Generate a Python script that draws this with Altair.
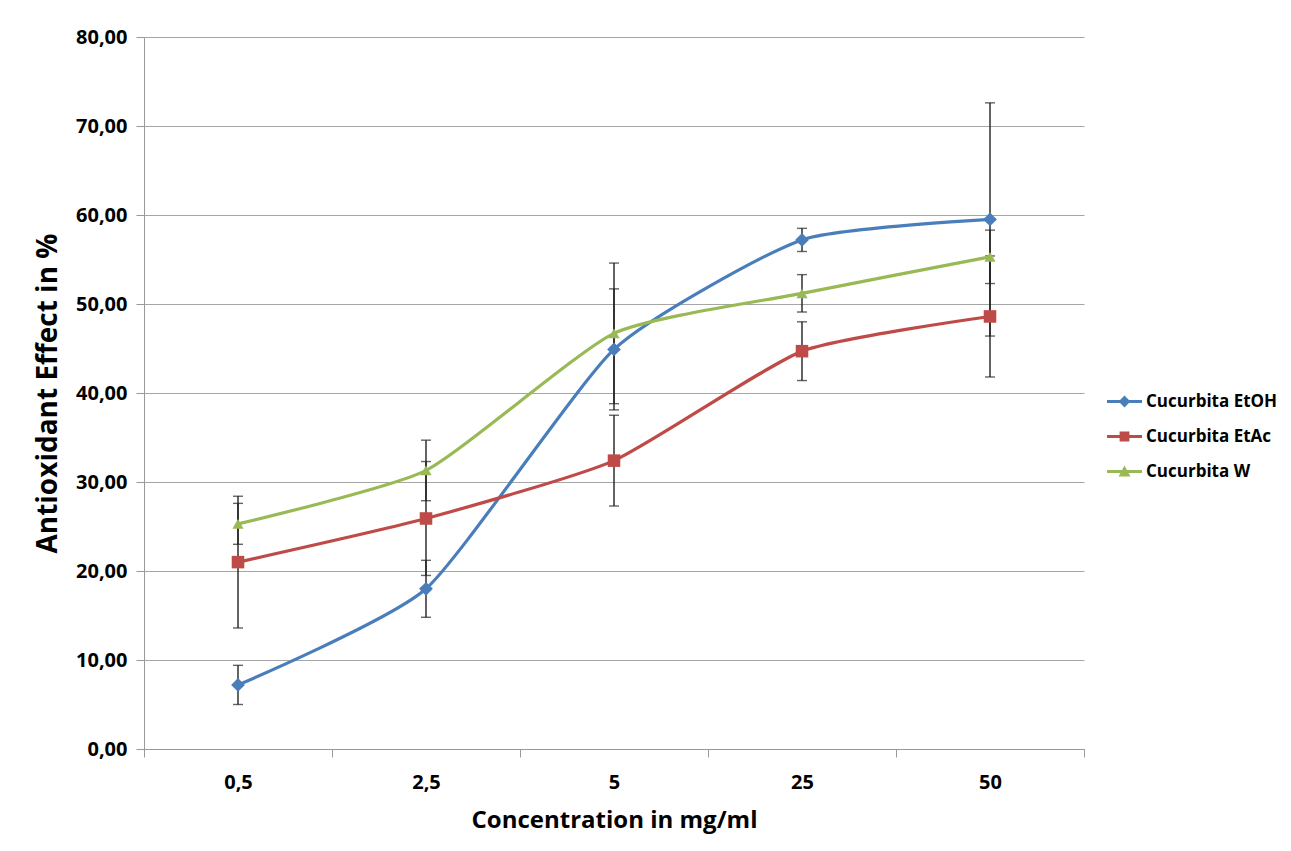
import altair as alt
import pandas as pd

concentrations = ["0,5", "2,5", "5", "25", "50"]
series_names = ["Cucurbita EtOH", "Cucurbita EtAc", "Cucurbita W"]

etoh_values = [7.2, 18.0, 44.9, 57.2, 59.5]
etoh_errors = [2.2, 3.2, 6.8, 1.3, 13.1]
etac_values = [21.0, 25.9, 32.4, 44.7, 48.6]
etac_errors = [7.4, 6.4, 5.1, 3.3, 6.8]
w_values = [25.3, 31.3, 46.7, 51.2, 55.3]
w_errors = [2.3, 3.4, 7.9, 2.1, 3.0]

colors = ["#4A7EBB", "#BE4B48", "#98B954"]
shapes = ["diamond", "square", "triangle-up"]
marker_sizes = [190, 125, 150]
legend_paths = [
    "M-1,-0.08H1V0.08H-1Z M0,-0.34L0.34,0L0,0.34L-0.34,0Z",
    "M-1,-0.08H1V0.08H-1Z M-0.28,-0.28H0.28V0.28H-0.28Z",
    "M-1,-0.08H1V0.08H-1Z M0,-0.34L0.34,0.28H-0.34Z",
]

rows = []
for name, vals, errs in zip(series_names,
                            [etoh_values, etac_values, w_values],
                            [etoh_errors, etac_errors, w_errors]):
    for c, v, e in zip(concentrations, vals, errs):
        rows.append({"conc": c, "series": name, "value": v,
                     "lo": v - e, "hi": v + e})
df = pd.DataFrame(rows)

FONT = "Open Sans"
YTITLE = "Antioxidant Effect in %"

x_enc = alt.X(
    "conc:N", sort=concentrations, bandPosition=0.5,
    scale=alt.Scale(type="band", paddingInner=0, paddingOuter=0),
    axis=alt.Axis(title="Concentration in mg/ml", tickBand="extent", labelAngle=0,
                  grid=False, domainColor="#999999", tickColor="#999999",
                  tickSize=8, labelFont=FONT, labelFontSize=20, labelFontWeight="bold",
                  labelColor="black", labelPadding=15, titleFont=FONT,
                  titleFontSize=24, titleFontWeight="bold", titleColor="black",
                  titlePadding=16),
)

y_scale = alt.Scale(domain=[0, 80])


def y_enc(field):
    return alt.Y(
        f"{field}:Q", scale=y_scale, title=YTITLE,
        axis=alt.Axis(values=list(range(0, 81, 10)),
                      labelExpr="replace(format(datum.value, '.2f'), '.', ',')",
                      grid=True, gridColor="#A6A6A6", gridWidth=1.2,
                      domainColor="#999999", tickColor="#999999", tickSize=8,
                      labelFont=FONT, labelFontSize=20, labelFontWeight="bold",
                      labelColor="black", labelPadding=9, titleFont=FONT,
                      titleFontSize=28, titleFontWeight="bold", titleColor="black",
                      titlePadding=13),
    )


color_scale = alt.Scale(domain=series_names, range=colors)
base = alt.Chart(df)

err_rule = base.mark_rule(color="#222222", strokeWidth=1.4).encode(
    x=x_enc, y=y_enc("lo"), y2="hi:Q", detail="series:N")
cap_lo = base.mark_tick(color="#222222", thickness=1.4, size=10).encode(
    x=x_enc, y=y_enc("lo"), detail="series:N")
cap_hi = base.mark_tick(color="#222222", thickness=1.4, size=10).encode(
    x=x_enc, y=y_enc("hi"), detail="series:N")

lines = base.mark_line(interpolate="cardinal", tension=0.45, strokeWidth=3.2).encode(
    x=x_enc, y=y_enc("value"),
    color=alt.Color("series:N", scale=color_scale, legend=None),
)

points = base.mark_point(filled=True, opacity=1).encode(
    x=x_enc, y=y_enc("value"),
    color=alt.Color("series:N", scale=color_scale, legend=None),
    shape=alt.Shape("series:N", scale=alt.Scale(domain=series_names, range=shapes),
                    legend=None),
    size=alt.Size("series:N", scale=alt.Scale(domain=series_names, range=marker_sizes),
                  legend=None),
)

legend_def = alt.Legend(title=None, orient="none", legendX=963, legendY=347)

legend_layer = base.mark_point(filled=True, opacity=0, size=10).encode(
    x=x_enc, y=y_enc("value"),
    color=alt.Color("series:N", scale=alt.Scale(domain=series_names, range=colors),
                    legend=legend_def),
    shape=alt.Shape("series:N", scale=alt.Scale(domain=series_names, range=legend_paths),
                    legend=legend_def),
)

chart = alt.layer(err_rule, cap_lo, cap_hi, lines, points, legend_layer).resolve_scale(
    color="independent", shape="independent", size="independent"
).properties(
    width=940, height=712,
    padding={"left": 34, "top": 27, "right": 5, "bottom": 5},
    background="white",
).configure_view(stroke=None).configure_legend(
    labelFont=FONT, labelFontSize=17, labelFontWeight="bold", labelColor="black",
    symbolSize=1225, symbolOpacity=1, symbolStrokeWidth=0, rowPadding=9,
    labelOffset=4, labelLimit=300,
)

chart.save("out.html", embed_options={"renderer": "svg", "actions": False})
